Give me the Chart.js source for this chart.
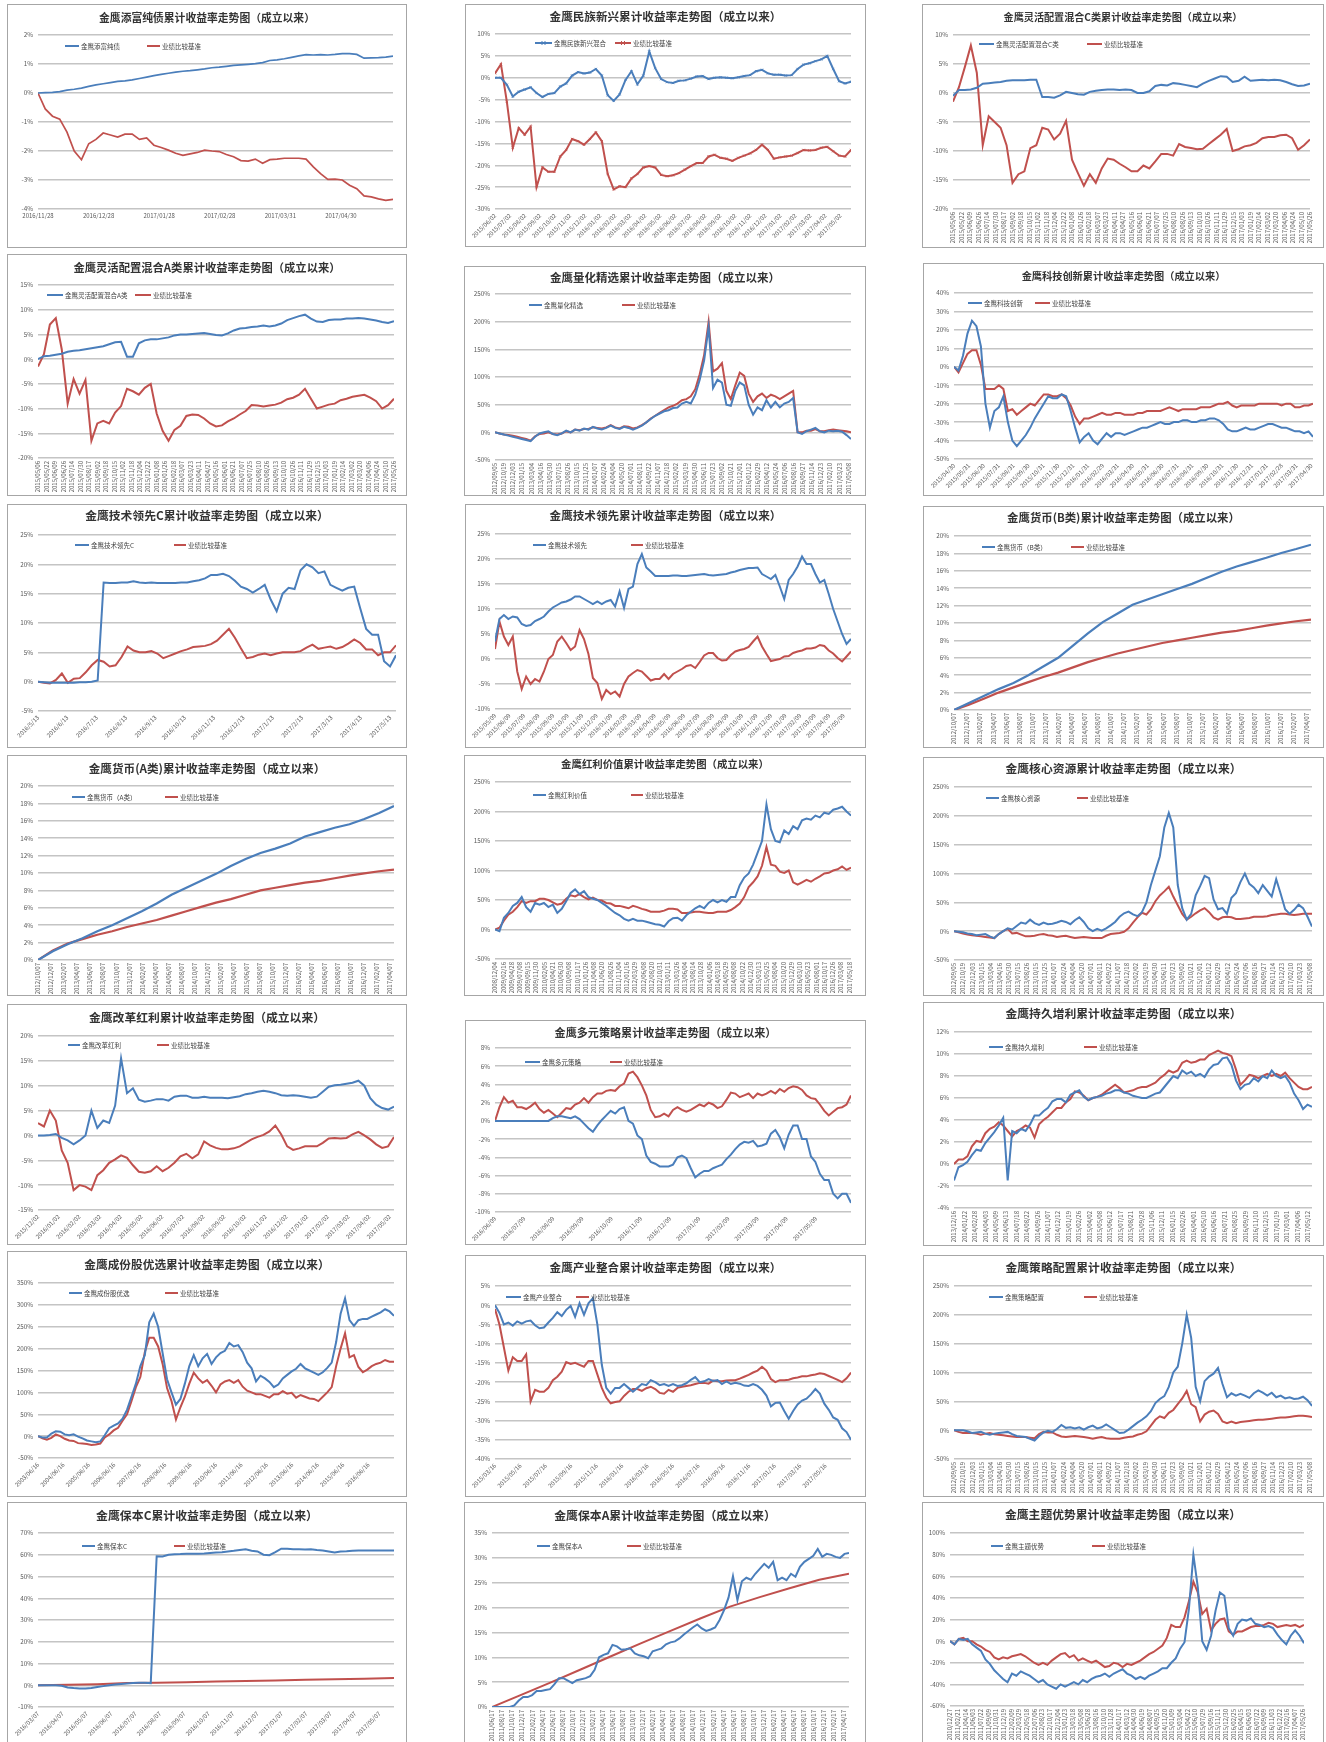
<!DOCTYPE html>
<html>
<head>
<meta charset="utf-8">
<script src="https://cdn.jsdelivr.net/npm/chart.js@4.4.1/dist/chart.umd.min.js"></script>
<style>
  body { margin: 0; background: #fff; }
  #page { position: relative; width: 1326px; height: 1742px; overflow: hidden; background: #fff; }
  .panel { position: absolute; border: 1px solid #a6a6a6; box-sizing: border-box; background: #fff; }
  .panel canvas { position: absolute; left: 0; top: 0; }
</style>
</head>
<body>
<div id="page"></div>
<script>
// Values (cumulative return, %), equally spaced in time.
const BENCH = '业绩比较基准';

const p1Labels = ['2016/11/28', '2016/12/28', '2017/01/28', '2017/02/28', '2017/03/31', '2017/04/30'];
const p1Blue = [0,0.01,0.02,0.05,0.1,0.13,0.17,0.23,0.28,0.32, 0.36,0.4,0.42,0.45,0.5,0.55,0.6,0.64,0.68,0.72, 0.75,0.77,0.8,0.83,0.87,0.89,0.92,0.95,0.97,0.99, 1.01,1.05,1.12,1.14,1.18,1.23,1.28,1.32,1.31,1.32, 1.31,1.33,1.36,1.36,1.33,1.2,1.21,1.22,1.24,1.27];
const p1Red = [0,-0.55,-0.8,-0.9,-1.35,-2.0,-2.3,-1.75,-1.6,-1.38, -1.45,-1.52,-1.42,-1.42,-1.6,-1.55,-1.8,-1.88,-1.97,-2.08, -2.15,-2.1,-2.05,-1.97,-2.0,-2.02,-2.12,-2.2,-2.33,-2.35, -2.28,-2.42,-2.3,-2.28,-2.25,-2.25,-2.25,-2.28,-2.55,-2.78, -2.98,-2.97,-3.0,-3.18,-3.3,-3.55,-3.58,-3.65,-3.7,-3.67];

const p2Labels = '2015/06/02 2015/07/02 2015/08/02 2015/09/02 2015/10/02 2015/11/02 2015/12/02 2016/01/02 2016/02/02 2016/03/02 2016/04/02 2016/05/02 2016/06/02 2016/07/02 2016/08/02 2016/09/02 2016/10/02 2016/11/02 2016/12/02 2017/01/02 2017/02/02 2017/03/02 2017/04/02 2017/05/02'.split(' ');
const p2Blue = [0,0,-1.6,-4.3,-3.2,-2.7,-2.2,-3.5,-4.4,-3.7, -3.5,-2.0,-1.3,0.5,1.3,1.0,1.2,2.0,0.5,-4.0, -5.3,-3.8,-0.5,1.5,-1.5,0.5,6.0,2.2,-0.3,-1.0, -1.2,-0.7,-0.6,-0.2,0.3,0.4,-0.3,0,0.1,0, -0.1,0.1,0.4,0.6,1.5,1.8,1.0,0.7,0.7,0.5, 0.6,2.0,3.0,3.3,3.8,4.2,5.0,2.0,-0.8,-1.3, -0.9];
const p2Red = [1.0,3.1,-5.5,-16,-11.5,-13,-11.2,-25,-20.5,-21.5, -21.5,-18,-16.5,-14,-14.5,-15.3,-14,-12.5,-14.5,-22, -25.5,-24.8,-25,-23,-22,-20.5,-20.2,-20.5,-22.2,-22.5, -22.3,-21.8,-21,-20.2,-19.5,-19.5,-18,-17.6,-18.3,-18.5, -19,-18.3,-17.8,-17.3,-16.5,-15.3,-16.5,-18.5,-18.2,-18, -17.8,-17.2,-16.5,-16.6,-16.5,-16,-15.8,-16.8,-17.8,-18, -16.5];

const p3Labels = '2015/05/06 2015/05/22 2015/06/09 2015/06/26 2015/07/14 2015/07/30 2015/08/17 2015/09/02 2015/09/18 2015/10/15 2015/11/02 2015/11/18 2015/12/04 2015/12/22 2016/01/08 2016/01/26 2016/02/18 2016/03/07 2016/03/23 2016/04/11 2016/04/27 2016/05/16 2016/06/01 2016/06/21 2016/07/07 2016/07/25 2016/08/10 2016/08/26 2016/09/13 2016/10/10 2016/10/26 2016/11/11 2016/11/29 2016/12/15 2017/01/03 2017/01/19 2017/02/14 2017/03/02 2017/03/20 2017/04/06 2017/04/24 2017/05/10 2017/05/26'.split(' ');
const p3Blue = [-0.5,0.5,0.5,0.6,0.9,1.6,1.7,1.8,1.9,2.1, 2.2,2.2,2.2,2.3,2.3,-0.7,-0.7,-0.8,-0.4,0.2, 0,-0.2,-0.3,0.2,0.4,0.5,0.6,0.6,0.5,0.6, 0.5,0,0,0.3,1.2,1.4,1.3,1.7,1.6,1.4, 1.2,1.0,1.6,2.1,2.5,2.9,2.8,1.9,2.1,2.8, 2.1,2.2,2.3,2.2,2.3,2.2,1.9,1.5,1.2,1.3, 1.6];
const p3Red = [-1.5,1.0,4.5,8.2,3.5,-9.0,-4.0,-5.0,-6.0,-9.0, -15.5,-14,-13.5,-9.5,-9.0,-6.0,-6.3,-8.0,-7.0,-4.8, -11.5,-13.8,-16,-14,-15.5,-13,-11.3,-11.5,-12.2,-12.8, -13.5,-13.5,-12.5,-13,-11.8,-10.5,-10.5,-10.8,-8.8,-9.3, -9.5,-9.7,-9.6,-8.8,-8.0,-7.2,-6.2,-10.0,-9.7,-9.2, -9.0,-8.6,-7.8,-7.6,-7.6,-7.3,-7.2,-7.8,-9.8,-9.0, -8.0];

const p4Blue = [0,0.6,0.7,0.9,1.1,1.5,1.7,1.8,2.0,2.2, 2.4,2.6,3.0,3.4,3.5,0.5,0.5,3.2,3.8,4.0, 4.0,4.2,4.4,4.8,5.0,5.0,5.1,5.2,5.3,5.1, 4.9,4.8,5.2,5.8,6.2,6.3,6.5,6.6,6.8,6.6, 6.8,7.2,7.9,8.3,8.7,9.0,8.2,7.6,7.5,7.9, 8.0,8.0,8.2,8.2,8.3,8.2,8.0,7.8,7.5,7.3, 7.7];
const p4Red = [-1.5,1.0,7.0,8.3,2.0,-9.0,-4.0,-7.0,-4.2,-16.5, -13,-12.5,-13,-10.8,-9.5,-6.0,-6.5,-7.2,-5.8,-5.0, -11,-14.5,-16.5,-14.3,-13.5,-11.5,-11.2,-11.3,-12.0,-13.0, -13.6,-13.4,-12.6,-12.0,-11.2,-10.5,-9.3,-9.4,-9.6,-9.4, -9.2,-8.8,-8.1,-7.8,-7.2,-6.0,-8.0,-10.0,-9.6,-9.2, -9.0,-8.3,-8.0,-7.6,-7.4,-7.2,-7.8,-8.5,-10.0,-9.3, -8.0];

const p5Labels = '2012/09/05 2012/10/19 2012/12/03 2013/01/15 2013/03/04 2013/04/16 2013/05/30 2013/07/15 2013/08/26 2013/10/15 2013/11/25 2014/01/07 2014/02/24 2014/04/04 2014/05/20 2014/07/01 2014/08/11 2014/09/22 2014/11/07 2014/12/18 2015/02/02 2015/03/19 2015/04/30 2015/06/11 2015/07/23 2015/09/02 2015/10/21 2015/12/01 2016/01/12 2016/02/29 2016/04/12 2016/05/24 2016/07/06 2016/08/16 2016/09/27 2016/11/14 2016/12/23 2017/02/10 2017/03/23 2017/05/08'.split(' ');
const p5Blue = [0,-2,-4,-6,-8,-10,-12,-14,-16,-8, -2,0,2,-3,-5,-2,3,0,5,3, 7,5,10,7,5,8,12,8,6,10, 8,5,8,12,18,24,30,34,38,40, 44,45,52,55,52,68,95,130,190,80, 95,90,50,48,75,90,85,50,32,45, 40,58,45,55,45,52,55,62,0,-3, 2,5,8,2,0,3,2,3,1,-5, -12];
const p5Red = [0,-2,-4,-5,-6,-8,-10,-12,-15,-7, -3,-2,0,-3,-4,-2,2,0,5,4, 6,6,9,8,7,9,13,9,7,11, 10,7,9,13,18,25,30,35,40,45, 48,52,58,60,65,78,105,140,200,110, 115,125,75,60,85,108,102,70,55,65, 70,62,68,65,60,65,70,75,0,0, 3,3,6,2,2,4,5,4,3,2, 0];

const p6Labels = '2015/04/30 2015/05/31 2015/06/30 2015/07/31 2015/08/31 2015/09/30 2015/10/31 2015/11/30 2015/12/31 2016/01/31 2016/02/29 2016/03/31 2016/04/30 2016/05/31 2016/06/30 2016/07/31 2016/08/31 2016/09/30 2016/10/31 2016/11/30 2016/12/31 2017/01/31 2017/02/28 2017/03/31 2017/04/30'.split(' ');
const p6Blue = [0,-2,6,18,25,22,11,-20,-33,-24, -22,-16,-30,-40,-43,-40,-37,-33,-28,-24, -20,-16,-17,-17,-15,-16,-24,-33,-41,-38, -36,-40,-42,-39,-36,-38,-36,-36,-37,-36, -35,-34,-33,-33,-32,-31,-30,-31,-31,-30, -30,-29,-29,-30,-30,-29,-29,-28,-28,-29, -31,-34,-35,-35,-34,-33,-34,-34,-33,-32, -31,-31,-32,-33,-33,-34,-35,-35,-36,-35, -38];
const p6Red = [0,-3,2,7,9,9,1,-12,-12,-12, -10,-12,-24,-23,-26,-24,-22,-20,-21,-18, -15,-15,-16,-16,-15,-17,-21,-27,-31,-28, -28,-27,-26,-25,-26,-26,-25,-25,-26,-26, -26,-25,-25,-24,-24,-24,-24,-23,-22,-23, -24,-23,-23,-23,-23,-22,-22,-22,-21,-20, -20,-19,-21,-22,-21,-21,-21,-21,-20,-20, -20,-20,-20,-21,-20,-20,-22,-22,-21,-21, -20];

const p7Labels = '2016/5/13 2016/6/13 2016/7/13 2016/8/13 2016/9/13 2016/10/13 2016/11/13 2016/12/13 2017/1/13 2017/2/13 2017/3/13 2017/4/13 2017/5/13'.split(' ');
const p7Blue = [0,-0.1,-0.2,-0.2,-0.2,-0.2,-0.2,-0.1,-0.1,0, 0.2,16.9,16.8,16.8,16.9,16.9,17.1,16.9,16.8,16.9, 16.8,16.8,16.8,16.8,16.9,16.9,17.1,17.3,17.6,18.2, 18.2,18.4,18.0,17.2,16.2,15.8,15.2,15.8,16.5,14.0, 12.0,15.0,16.0,15.8,19.0,20.0,19.5,18.5,18.8,16.5, 16.0,15.5,16.0,16.2,12.5,9.0,8.0,8.0,3.5,2.6, 4.5];
const p7Red = [0,-0.2,-0.3,0.3,1.4,-0.2,0.5,0.6,1.6,2.8, 3.7,3.4,2.6,2.8,4.2,6.0,5.3,5.0,5.0,5.2, 4.8,4.0,4.4,4.8,5.2,5.5,5.9,6.0,6.1,6.4, 7.0,8.0,9.0,7.5,5.7,4.0,4.2,4.6,4.8,4.5, 4.8,5.0,5.0,5.0,5.2,5.8,6.3,5.6,5.8,6.0, 5.6,5.9,6.5,7.2,6.6,5.5,5.5,4.5,5.0,5.0, 6.2];

const p8Labels = '2015/05/09 2015/06/09 2015/07/09 2015/08/09 2015/09/09 2015/10/09 2015/11/09 2015/12/09 2016/01/09 2016/02/09 2016/03/09 2016/04/09 2016/05/09 2016/06/09 2016/07/09 2016/08/09 2016/09/09 2016/10/09 2016/11/09 2016/12/09 2017/01/09 2017/02/09 2017/03/09 2017/04/09 2017/05/09'.split(' ');
const p8Blue = [3.5,8.0,8.8,8.0,8.5,8.3,7.0,6.6,6.8,7.6, 8.0,8.5,9.5,10.3,10.8,11.3,11.5,11.9,12.5,12.5, 12.0,11.5,11.0,11.5,11.0,11.5,11.8,10.5,13.5,10.2, 14.0,14.5,19.0,21.0,18.3,17.5,16.6,16.6,16.6,16.6, 16.7,16.7,16.6,16.6,16.7,16.8,16.9,17.0,16.8,16.7, 16.8,16.9,17.0,17.3,17.5,17.8,18.0,18.2,18.2,18.3, 17.0,16.5,16.0,16.8,14.5,12.0,15.8,17.0,18.5,20.5, 19.0,19.0,17.0,15.3,15.8,13.0,10.0,7.5,5.0,3.0, 4.0];
const p8Red = [2.0,7.5,4.5,2.8,4.5,-2.5,-6.0,-3.5,-5.0,-4.0, -4.5,-2.5,0.0,0.8,3.5,4.5,3.2,1.8,2.5,5.8, 4.0,1.0,-3.8,-4.8,-8.0,-6.2,-7.0,-6.5,-7.5,-5.0, -3.5,-2.8,-2.2,-2.5,-3.4,-4.3,-4.0,-4.0,-3.0,-4.0, -3.0,-2.5,-2.0,-1.4,-1.2,-1.8,-0.6,0.7,1.2,1.2, 0.2,-0.3,-0.2,0.8,1.5,1.8,2.0,2.4,3.5,4.5, 2.5,1.0,-0.4,-0.2,0.0,0.5,0.6,1.2,1.5,1.7, 2.1,2.1,2.3,2.8,2.6,1.7,1.1,0.2,-0.5,0.5, 1.5];

const p9Labels = '2012/10/07 2012/12/07 2013/02/07 2013/04/07 2013/06/07 2013/08/07 2013/10/07 2013/12/07 2014/02/07 2014/04/07 2014/06/07 2014/08/07 2014/10/07 2014/12/07 2015/02/07 2015/04/07 2015/06/07 2015/08/07 2015/10/07 2015/12/07 2016/02/07 2016/04/07 2016/06/07 2016/08/07 2016/10/07 2016/12/07 2017/02/07 2017/04/07'.split(' ');
const p9Blue = [0,0.8,1.6,2.4,3.1,4.0,5.0,6.0,7.4,8.8, 10.1,11.1,12.1,12.7,13.3,13.9,14.5,15.2,15.9,16.5, 17.0,17.5,18.05,18.5,19.0];
const p9Red = [0,0.6,1.3,2.0,2.6,3.2,3.8,4.3,4.9,5.5, 6.0,6.5,6.9,7.3,7.7,8.0,8.3,8.6,8.9,9.1, 9.4,9.7,9.95,10.2,10.4];

const p10Blue = [0,1.0,1.8,2.5,3.3,4.0,4.8,5.6,6.5,7.5, 8.3,9.1,9.9,10.8,11.6,12.3,12.8,13.4,14.2,14.7, 15.2,15.6,16.2,16.9,17.7];
const p10Red = [0,1.1,1.9,2.4,2.9,3.3,3.8,4.2,4.6,5.1, 5.6,6.1,6.6,7.0,7.5,8.0,8.3,8.6,8.9,9.1, 9.4,9.7,9.95,10.2,10.4];

const p11Labels = '2008/12/04 2009/02/16 2009/04/28 2009/07/08 2009/09/15 2009/11/30 2010/02/05 2010/04/21 2010/06/30 2010/09/08 2010/11/17 2011/01/26 2011/04/08 2011/06/20 2011/08/26 2011/11/04 2012/01/16 2012/03/29 2012/06/08 2012/08/20 2012/10/31 2013/01/11 2013/03/26 2013/06/04 2013/08/14 2013/10/28 2014/01/06 2014/03/18 2014/05/29 2014/08/08 2014/10/22 2014/12/30 2015/03/13 2015/05/25 2015/08/04 2015/10/20 2015/12/29 2016/03/10 2016/05/23 2016/08/01 2016/10/17 2016/12/26 2017/03/08 2017/05/18'.split(' ');
const p11Blue = [0,-3,20,28,40,45,55,38,30,45, 42,45,38,42,28,35,48,62,68,60, 65,55,52,50,45,40,34,28,24,18, 15,18,15,15,13,11,9,8,5,14, 19,20,15,24,30,36,40,36,45,50, 46,50,47,55,55,75,88,95,110,130, 150,212,170,150,148,168,162,175,170,185, 188,186,193,190,198,196,203,205,208,200, 193];
const p11Red = [0,3,15,25,30,38,48,45,48,48, 52,52,50,46,42,44,52,58,56,60, 55,51,54,50,49,45,44,40,40,38, 36,40,38,35,33,30,30,30,32,35, 35,34,28,28,29,30,30,29,28,28, 30,30,30,33,38,44,55,72,80,90, 108,140,110,108,98,96,100,80,76,80, 84,81,86,90,95,96,100,102,107,101, 105];

const p12Blue = [0,-1,-2,-4,-5,-7,-6,-5,-9,-12, -5,0,5,3,9,15,13,20,14,11, 15,12,13,15,18,16,12,19,24,16, 5,0,4,1,5,10,16,25,31,34, 29,26,33,50,80,105,130,180,205,180, 80,40,20,30,62,78,96,92,55,38, 40,30,58,66,85,100,82,76,66,80, 70,60,90,65,38,30,37,46,40,25, 8];
const p12Red = [0,-2,-4,-6,-7,-8,-9,-10,-11,-12, -5,0,4,-4,-3,-6,-9,-9,-8,-6, -5,-7,-8,-10,-9,-8,-10,-12,-11,-10, -11,-12,-12,-12,-8,-5,-4,-3,-1,5, 15,24,32,29,38,52,62,69,77,60, 45,30,20,25,31,36,40,33,24,20, 24,25,24,21,21,22,23,25,25,25, 26,28,29,30,30,29,28,29,30,30, 30];

const p13Labels = '2015/12/02 2016/01/02 2016/02/02 2016/03/02 2016/04/02 2016/05/02 2016/06/02 2016/07/02 2016/08/02 2016/09/02 2016/10/02 2016/11/02 2016/12/02 2017/01/02 2017/02/02 2017/03/02 2017/04/02 2017/05/02'.split(' ');
const p13Blue = [0,0,0.1,0.3,-0.5,-1.0,-1.8,-1.0,0,5, 1.5,3,2.5,6,15.5,8.5,9.5,7.2,6.8,7.0, 7.3,7.3,7.0,7.8,8.0,8.0,7.6,7.6,7.8,7.6, 7.6,7.6,7.5,7.7,7.9,8.3,8.5,8.8,9.0,8.8, 8.5,8.1,8.0,8.1,8.0,7.8,7.6,7.8,8.8,9.8, 10.1,10.2,10.4,10.6,11.0,10.0,7.5,6.2,5.5,5.2, 5.8];
const p13Red = [2.5,1.8,5.0,3.0,-3.0,-5.5,-11.0,-10.0,-10.3,-11, -8.0,-7.0,-5.5,-4.8,-4.0,-4.5,-6.0,-7.3,-7.5,-7.2, -6.2,-7.2,-6.5,-5.5,-4.2,-3.7,-4.6,-3.8,-1.2,-2.0, -2.5,-2.8,-2.8,-2.6,-2.2,-1.5,-0.8,-0.3,0.1,0.8, 2.0,0.2,-2.2,-2.9,-2.6,-2.2,-2.2,-2.2,-1.5,-0.6, -0.5,-0.6,-0.5,0.2,0.7,0.0,-0.8,-1.8,-2.5,-2.2, -0.3];

const p14Labels = '2016/06/09 2016/07/09 2016/08/09 2016/09/09 2016/10/09 2016/11/09 2016/12/09 2017/01/09 2017/02/09 2017/03/09 2017/04/09 2017/05/09'.split(' ');
const p14Blue = [0,0,0,0,0,0,0,0,0,0, 0,0,0,0.3,0.5,0.5,0.4,0.3,0.5,0.2, -0.3,-0.8,-1.2,-0.5,0.1,0.6,1.1,0.8,1.3,1.5, 0.0,-0.3,-1.6,-2.0,-3.8,-4.5,-4.7,-5.0,-5.0,-5.0, -4.8,-4.0,-3.8,-4.1,-5.2,-6.2,-5.8,-5.5,-5.5,-5.2, -5.0,-4.8,-4.2,-3.7,-3.1,-2.6,-2.3,-2.4,-2.2,-2.8, -2.7,-2.5,-1.4,-1.0,-1.8,-3.0,-1.5,-0.5,-0.5,-2.0, -2.0,-3.9,-4.5,-5.8,-6.5,-6.5,-8.0,-8.5,-8.0,-8.0, -9.0];
const p14Red = [0,1.5,2.6,2.0,2.2,1.5,1.5,1.3,1.6,2.0, 1.3,0.9,1.2,0.8,0.4,0.9,1.4,1.3,1.8,2.0, 2.5,2.0,2.6,3.0,3.0,3.3,3.4,3.3,3.8,4.1, 5.2,5.4,4.8,3.9,2.8,1.2,0.4,0.5,0.8,0.5, 1.2,1.5,1.2,1.0,1.2,1.5,1.8,1.6,2.0,1.8, 1.4,1.6,2.3,3.1,3.0,2.6,2.8,3.0,2.5,3.0, 2.8,3.0,3.3,3.0,3.5,3.2,3.6,3.8,3.7,3.4, 2.8,2.5,2.4,1.8,1.1,0.6,1.0,1.4,1.5,1.8, 2.8];

const p15Labels = '2013/12/16 2014/01/22 2014/02/28 2014/04/03 2014/05/09 2014/06/13 2014/07/18 2014/08/22 2014/09/26 2014/11/07 2014/12/12 2015/01/19 2015/02/26 2015/04/02 2015/05/08 2015/06/12 2015/07/17 2015/08/21 2015/09/28 2015/11/06 2015/12/11 2016/01/15 2016/02/26 2016/04/01 2016/05/10 2016/06/16 2016/07/21 2016/08/25 2016/09/29 2016/11/10 2016/12/15 2017/01/19 2017/03/01 2017/04/06 2017/05/12'.split(' ');
const p15Blue = [-1.5,-0.3,-0.1,0.2,0.8,1.3,1.2,1.9,2.4,2.9, 3.5,4.2,-1.5,3.0,2.8,3.2,3.0,3.6,4.4,4.4, 4.8,5.1,5.7,5.9,5.9,5.6,6.3,6.5,6.7,6.1, 5.8,6.0,6.1,6.2,6.4,6.5,6.7,6.7,6.5,6.4, 6.2,6.1,6.0,6.0,6.2,6.4,6.5,7.0,7.5,8.0, 7.8,8.5,8.2,8.4,8.0,8.2,7.9,8.6,9.0,9.1, 9.6,9.7,9.0,7.6,6.8,7.2,7.3,7.8,7.5,8.0, 7.8,8.5,8.0,7.8,8.0,7.4,6.4,5.8,5.0,5.4, 5.2];
const p15Red = [0,0.4,0.4,0.7,1.6,2.1,2.0,2.8,3.2,3.4, 3.8,3.5,3.0,2.5,3.0,3.2,3.5,3.3,2.4,3.6, 4.0,4.3,4.7,5.1,5.1,5.6,5.9,6.6,6.5,6.2, 5.8,6.0,6.1,6.3,6.6,6.9,7.2,6.9,6.5,6.6, 6.7,6.9,7.0,7.0,7.2,7.4,7.8,8.1,8.5,8.3, 8.5,9.2,9.4,9.2,9.3,9.5,9.5,9.9,10.1,10.3, 10.1,10.0,9.8,8.6,7.2,7.6,8.1,8.0,7.8,8.0, 8.2,8.0,8.2,8.0,8.3,7.8,7.4,7.0,6.8,6.8, 7.0];

const p16Labels = '2003/06/16 2004/06/16 2005/06/16 2006/06/16 2007/06/16 2008/06/16 2009/06/16 2010/06/16 2011/06/16 2012/06/16 2013/06/16 2014/06/16 2015/06/16 2016/06/16'.split(' ');
const p16Blue = [0,-3,-3,6,11,10,4,2,4,-1, -5,-10,-12,-14,-12,2,18,24,29,40, 60,90,120,160,185,260,280,250,190,130, 100,72,85,120,160,185,160,178,188,165, 180,190,195,213,205,208,192,168,155,125, 138,132,124,112,118,132,140,148,154,165, 155,150,145,140,146,156,168,215,280,315, 265,252,265,268,268,273,278,283,290,285, 275];
const p16Red = [0,-5,-8,-4,4,0,-6,-10,-11,-16, -17,-18,-20,-19,-17,-3,4,13,19,35, 50,80,112,135,192,225,225,205,165,110, 80,38,66,90,120,145,132,122,128,115, 100,118,125,128,122,128,113,104,100,96, 96,92,88,96,96,103,97,99,88,94, 90,86,85,80,90,100,112,160,200,235, 180,185,158,146,152,160,165,168,174,170, 170];

const p17Labels = '2015/03/16 2015/05/16 2015/07/16 2015/09/16 2015/11/16 2016/01/16 2016/03/16 2016/05/16 2016/07/16 2016/09/16 2016/11/16 2017/01/16 2017/03/16 2017/05/16'.split(' ');
const p17Blue = [0,-2,-5,-4.5,-5.3,-4.2,-4.8,-4.2,-4.0,-5.2, -6.0,-5.8,-4.5,-3.3,-1.8,-2.8,-1.2,-0.2,-3.0,0.5, -2.5,0.5,1.8,-5.0,-15.5,-21.5,-23,-21.5,-21.5,-20.5, -21.5,-22.5,-21.5,-20.5,-20.8,-19.5,-20,-20.8,-20.5,-21, -20.5,-21,-20.8,-20.3,-19.4,-18.7,-20,-19.8,-19.2,-19.7, -19.5,-20.5,-19.8,-20.5,-20.2,-20.4,-20.9,-21,-20.5,-21, -22,-23.5,-26.3,-25.4,-25.3,-27.5,-29.5,-27.5,-25.8,-24.8, -24.3,-23.2,-21.8,-23,-25.6,-27.2,-29.2,-29.8,-32,-33, -35];
const p17Red = [-1,-5,-11,-17,-13.5,-14.5,-14.5,-12.8,-25,-22, -22.5,-22.5,-21.5,-19.5,-18.6,-17.3,-14.8,-15.3,-15,-15.5, -16,-14.5,-14.5,-18,-21.5,-24,-25.5,-25.2,-25,-23.6, -22.5,-21.8,-21.8,-22.3,-21.6,-21.2,-21.8,-22.8,-23,-22, -22.5,-21.5,-21.2,-21,-20.8,-20.5,-20.2,-20.2,-20.4,-19.6, -19.8,-19.8,-19.6,-19.5,-19.5,-19.1,-18.6,-18.1,-17.5,-17, -16,-17,-19.2,-20,-19.5,-19.5,-19.4,-19,-18.8,-18.5, -18.5,-18.2,-18,-17.7,-17.9,-18.4,-18.9,-19.4,-20,-19, -17.5];

const p18Blue = [0,0,0,-2,-5,-4,-3,-6,-8,-6, -5,-4,-3,-7,-10,-11,-12,-15,-18,-10, -4,-1,-3,2,9,4,5,3,5,1, 5,8,3,5,10,5,0,-5,-4,1, 7,13,18,24,33,47,54,59,75,100, 110,150,200,160,75,50,85,93,98,108, 80,57,64,60,63,60,56,64,69,65, 60,65,57,60,55,57,54,55,58,52, 42];
const p18Red = [0,-3,-5,-5,-5,-6,-8,-6,-5,-7, -8,-9,-10,-11,-12,-12,-12,-13,-14,-7, -3,-4,-4,-8,-11,-12,-11,-10,-11,-12, -13,-15,-13,-12,-14,-15,-15,-15,-13,-12, -11,-8,-6,-2,8,18,24,21,30,35, 45,55,68,45,40,15,27,32,34,28, 15,12,15,12,14,15,16,17,18,18, 19,20,21,22,22,23,24,25,25,24, 23];

const p19Labels = '2016/03/07 2016/04/07 2016/05/07 2016/06/07 2016/07/07 2016/08/07 2016/09/07 2016/10/07 2016/11/07 2016/12/07 2017/01/07 2017/02/07 2017/03/07 2017/04/07 2017/05/07'.split(' ');
const p19Blue = [0,0,0,0,-0.2,-1.0,-1.3,-1.5,-1.5,-1.3, -0.8,-0.4,0,0.3,0.6,0.8,1.0,1.1,1.2,1.0, 59.3,59.2,60.0,60.2,60.3,60.5,60.5,60.5,60.6,60.8, 61.0,61.2,61.5,61.8,62.2,62.5,61.8,61.5,60.0,59.8, 61.2,62.8,62.8,62.5,62.5,62.4,62.5,62.2,62.0,61.5, 61.0,61.5,61.6,61.8,62.0,62.0,62.0,62.0,62.0,62.0, 62.0];
const p19Red = [0,0.2,0.5,1.0,1.2,1.4,1.7,2.0,2.2,2.5,2.8,3.0,3.3];

const p20Labels = '2011/06/17 2011/08/17 2011/10/17 2011/12/17 2012/02/17 2012/04/17 2012/06/17 2012/08/17 2012/10/17 2012/12/17 2013/02/17 2013/04/17 2013/06/17 2013/08/17 2013/10/17 2013/12/17 2014/02/17 2014/04/17 2014/06/17 2014/08/17 2014/10/17 2014/12/17 2015/02/17 2015/04/17 2015/06/17 2015/08/17 2015/10/17 2015/12/17 2016/02/17 2016/04/17 2016/06/17 2016/08/17 2016/10/17 2016/12/17 2017/02/17 2017/04/17'.split(' ');
const p20Blue = [0,0,0,0,0,0.3,1.3,2.0,2.0,2.4, 3.2,3.2,3.4,3.6,4.6,5.8,5.8,5.3,4.8,5.4, 5.6,5.8,6.2,7.5,10.0,10.5,10.8,12.5,12.2,11.5, 11.6,11.8,10.8,10.4,10.2,9.8,11.2,11.5,11.8,12.6, 13.0,13.2,13.8,14.6,15.3,16.0,16.6,15.8,15.3,15.6, 16.0,17.5,19.5,22.0,26.3,21.5,25.3,26.0,25.6,26.8, 27.8,28.8,28.0,29.2,25.5,26.0,25.5,26.8,26.2,28.2, 29.2,29.8,30.4,31.8,30.2,30.8,30.6,30.2,30.0,30.8, 31.0];
const p20Red = [0,2.5,5.0,7.6,10.2,12.8,15.3,17.8,20.2,22.1,23.9,25.6,26.8];

const p21Labels = '2010/12/27 2011/02/21 2011/04/14 2011/06/03 2011/07/22 2011/09/09 2011/10/31 2011/12/19 2012/02/09 2012/03/29 2012/05/18 2012/07/06 2012/08/23 2012/10/17 2012/12/04 2013/01/23 2013/03/18 2013/05/08 2013/06/28 2013/08/16 2013/10/10 2013/11/28 2014/01/17 2014/03/12 2014/04/30 2014/06/19 2014/08/07 2014/09/25 2014/11/20 2015/01/09 2015/03/04 2015/04/22 2015/06/10 2015/07/29 2015/09/16 2015/11/11 2015/12/30 2016/02/25 2016/04/15 2016/06/03 2016/07/22 2016/09/09 2016/11/03 2016/12/22 2017/02/16 2017/04/07 2017/05/26'.split(' ');
const p21Blue = [0,-3,2,1,2,-3,-6,-9,-17,-21, -27,-31,-35,-38,-30,-32,-28,-30,-32,-35, -38,-36,-40,-42,-44,-40,-42,-40,-38,-40, -36,-38,-35,-33,-32,-30,-33,-30,-28,-26, -30,-32,-35,-33,-35,-32,-30,-28,-25,-25, -20,-16,-7,-1,30,80,50,0,-8,5, 28,45,42,12,5,16,20,19,21,16, 15,13,14,12,6,1,-3,5,10,5, -2];
const p21Red = [0,-3,2,3,0,0,-3,-5,-8,-10, -15,-17,-15,-16,-14,-13,-12,-14,-17,-20, -22,-20,-22,-18,-15,-12,-11,-15,-13,-18, -16,-18,-20,-18,-21,-24,-23,-20,-21,-24, -21,-22,-20,-18,-15,-12,-10,-7,-4,3, 15,13,13,22,37,55,45,25,30,10, 16,20,21,9,6,9,9,11,13,14, 14,15,17,16,13,14,15,14,15,13, 15];

const FONT = "'Noto Sans CJK SC', 'Liberation Sans', sans-serif";
const BLUE = '#4a7ebb';
const RED = '#c0504d';

// One entry per panel. box = outer frame, plot = [left, top(max tick), right, bottom(min tick)],
// legend = [y, blue x1, blue x2, red x1, red x2]; all in page pixels.
const panels = [
  { title: '金鹰添富纯债累计收益率走势图（成立以来）', ts: 10.8, ty: 18, names: ['金鹰添富纯债', BENCH], blue: p1Blue, red: p1Red, labels: p1Labels, span: 5.86, rot: 0, y: [-4, 2, 1], box: [7, 4, 400, 244], plot: [38, 35, 393, 209], legend: [46, 65, 79, 147, 160], lw: 1.7 },
  { title: '金鹰民族新兴累计收益率走势图（成立以来）', ts: 11.6, ty: 17, names: ['金鹰民族新兴混合', BENCH], blue: p2Blue, red: p2Red, labels: p2Labels, span: 23.7, rot: 45, y: [-30, 10, 5], box: [465, 4, 401, 243], plot: [495, 34, 851, 209], legend: [43, 535, 552, 615, 631], markers: true },
  { title: '金鹰灵活配置混合C类累计收益率走势图（成立以来）', ts: 10.1, ty: 17, names: ['金鹰灵活配置混合C类', BENCH], blue: p3Blue, red: p3Red, labels: p3Labels, span: 42, rot: 90, y: [-20, 10, 5], box: [922, 4, 402, 244], plot: [953, 35, 1310, 209], legend: [44, 979, 994, 1087, 1102] },

  { title: '金鹰灵活配置混合A类累计收益率走势图（成立以来）', ts: 11.3, ty: 268, names: ['金鹰灵活配置混合A类', BENCH], blue: p4Blue, red: p4Red, labels: p3Labels, span: 42, rot: 90, y: [-20, 15, 5], box: [7, 254, 400, 242], plot: [38, 285, 394, 458], legend: [295, 47, 63, 135, 151] },
  { title: '金鹰量化精选累计收益率走势图（成立以来）', ts: 11.5, ty: 278, names: ['金鹰量化精选', BENCH], blue: p5Blue, red: p5Red, labels: p5Labels, span: 39.3, rot: 90, y: [-50, 250, 50], box: [464, 266, 402, 230], plot: [495, 294, 851, 460], legend: [305, 529, 542, 622, 635] },
  { title: '金鹰科技创新累计收益率走势图（成立以来）', ts: 10.2, ty: 276, names: ['金鹰科技创新', BENCH], blue: p6Blue, red: p6Red, labels: p6Labels, span: 24.1, rot: 45, y: [-50, 40, 10], box: [923, 263, 401, 233], plot: [954, 293, 1313, 459], legend: [303, 968, 982, 1035, 1050] },

  { title: '金鹰技术领先C累计收益率走势图（成立以来）', ts: 11.8, ty: 516, names: ['金鹰技术领先C', BENCH], blue: p7Blue, red: p7Red, labels: p7Labels, span: 12.2, rot: 45, y: [-5, 25, 5], box: [7, 504, 400, 244], plot: [38, 535, 396, 711], legend: [545, 75, 89, 174, 186] },
  { title: '金鹰技术领先累计收益率走势图（成立以来）', ts: 11.6, ty: 516, names: ['金鹰技术领先', BENCH], blue: p8Blue, red: p8Red, labels: p8Labels, span: 24.5, rot: 45, y: [-10, 25, 5], box: [465, 504, 401, 244], plot: [495, 534, 851, 709], legend: [545, 533, 546, 631, 643] },
  { title: '金鹰货币(B类)累计收益率走势图（成立以来）', ts: 11.4, ty: 518, names: ['金鹰货币（B类）', BENCH], blue: p9Blue, red: p9Red, labels: p9Labels, span: 27.3, rot: 90, y: [0, 20, 2], box: [923, 506, 401, 242], plot: [954, 536, 1311, 710], legend: [547, 982, 995, 1071, 1084], lw: 2.2 },

  { title: '金鹰货币(A类)累计收益率走势图（成立以来）', ts: 11.6, ty: 769, names: ['金鹰货币（A类）', BENCH], blue: p10Blue, red: p10Red, labels: p9Labels, span: 27.3, rot: 90, y: [0, 20, 2], box: [7, 755, 400, 241], plot: [38, 786, 394, 960], legend: [797, 72, 85, 165, 178], lw: 2.2 },
  { title: '金鹰红利价值累计收益率走势图（成立以来）', ts: 10.4, ty: 764, names: ['金鹰红利价值', BENCH], blue: p11Blue, red: p11Red, labels: p11Labels, span: 43.2, rot: 90, y: [-50, 250, 50], box: [464, 755, 402, 241], plot: [495, 782, 851, 959], legend: [795, 533, 546, 631, 643] },
  { title: '金鹰核心资源累计收益率走势图（成立以来）', ts: 11.8, ty: 769, names: ['金鹰核心资源', BENCH], blue: p12Blue, red: p12Red, labels: p5Labels, span: 39.3, rot: 90, y: [-50, 250, 50], box: [923, 757, 401, 239], plot: [954, 787, 1312, 960], legend: [798, 986, 999, 1077, 1088] },

  { title: '金鹰改革红利累计收益率走势图（成立以来）', ts: 11.8, ty: 1018, names: ['金鹰改革红利', BENCH], blue: p13Blue, red: p13Red, labels: p13Labels, span: 17.2, rot: 45, y: [-15, 20, 5], box: [7, 1004, 400, 241], plot: [38, 1036, 394, 1210], legend: [1045, 68, 80, 157, 169] },
  { title: '金鹰多元策略累计收益率走势图（成立以来）', ts: 11.1, ty: 1033, names: ['金鹰多元策略', BENCH], blue: p14Blue, red: p14Red, labels: p14Labels, span: 12.2, rot: 45, y: [-10, 8, 2], box: [465, 1020, 401, 225], plot: [495, 1048, 851, 1212], legend: [1062, 525, 540, 610, 622] },
  { title: '金鹰持久增利累计收益率走势图（成立以来）', ts: 11.8, ty: 1014, names: ['金鹰持久增利', BENCH], blue: p15Blue, red: p15Red, labels: p15Labels, span: 34.4, rot: 90, y: [-4, 12, 2], box: [923, 1002, 401, 244], plot: [954, 1032, 1312, 1208], legend: [1047, 989, 1003, 1084, 1097] },

  { title: '金鹰成份股优选累计收益率走势图（成立以来）', ts: 11.7, ty: 1265, names: ['金鹰成份股优选', BENCH], blue: p16Blue, red: p16Red, labels: p16Labels, span: 14, rot: 45, y: [-50, 350, 50], box: [7, 1251, 400, 246], plot: [38, 1283, 394, 1458], legend: [1293, 69, 82, 165, 178] },
  { title: '金鹰产业整合累计收益率走势图（成立以来）', ts: 11.6, ty: 1268, names: ['金鹰产业整合', BENCH], blue: p17Blue, red: p17Red, labels: p17Labels, span: 14, rot: 45, y: [-40, 5, 5], box: [465, 1255, 401, 242], plot: [495, 1286, 851, 1459], legend: [1297, 506, 521, 576, 589] },
  { title: '金鹰策略配置累计收益率走势图（成立以来）', ts: 11.8, ty: 1268, names: ['金鹰策略配置', BENCH], blue: p18Blue, red: p18Red, labels: p5Labels, span: 39.3, rot: 90, y: [-50, 250, 50], box: [923, 1255, 401, 242], plot: [954, 1286, 1312, 1459], legend: [1297, 989, 1003, 1084, 1097] },

  { title: '金鹰保本C累计收益率走势图（成立以来）', ts: 11.9, ty: 1515, names: ['金鹰保本C', BENCH], blue: p19Blue, red: p19Red, labels: p19Labels, span: 14.6, rot: 45, y: [-10, 70, 10], box: [7, 1502, 400, 250], plot: [38, 1533, 394, 1707], legend: [1546, 82, 95, 174, 185] },
  { title: '金鹰保本A累计收益率走势图（成立以来）', ts: 11.9, ty: 1515, names: ['金鹰保本A', BENCH], blue: p20Blue, red: p20Red, labels: p20Labels, span: 35.5, rot: 90, y: [0, 35, 5], box: [464, 1502, 402, 250], plot: [492, 1533, 849, 1707], legend: [1546, 537, 550, 627, 641] },
  { title: '金鹰主题优势累计收益率走势图（成立以来）', ts: 11.8, ty: 1515, names: ['金鹰主题优势', BENCH], blue: p21Blue, red: p21Red, labels: p21Labels, span: 46.2, rot: 90, y: [-60, 100, 20], box: [922, 1502, 402, 250], plot: [950, 1533, 1304, 1706], legend: [1546, 991, 1003, 1092, 1105] },
];

// Excel-style legend drawn inside the plot area
const insideLegend = {
  id: 'insideLegend',
  afterDatasetsDraw(chart, args, o) {
    const ctx = chart.ctx;
    ctx.save();
    ctx.font = `${o.size}px ${FONT}`;
    ctx.textBaseline = 'middle';
    chart.data.datasets.forEach((ds, k) => {
      const [x1, x2] = o.items[k];
      ctx.strokeStyle = ds.borderColor;
      ctx.lineWidth = 2;
      ctx.beginPath(); ctx.moveTo(x1, o.y); ctx.lineTo(x2, o.y); ctx.stroke();
      if (o.markers) {
        const m = (x1 + x2) / 2;
        ctx.lineWidth = 1;
        ctx.beginPath();
        ctx.moveTo(m - 2, o.y - 2); ctx.lineTo(m + 2, o.y + 2);
        ctx.moveTo(m - 2, o.y + 2); ctx.lineTo(m + 2, o.y - 2);
        ctx.stroke();
      }
      ctx.fillStyle = '#404040';
      ctx.fillText(ds.label, x2 + 2, o.y + 0.5);
    });
    ctx.restore();
  }
};

function makeChart(c) {
  const [bx, by, bw, bh] = c.box;
  const [pl, pt, pr, pb] = c.plot;
  const W = bw - 2, H = bh - 2, ox = bx + 1, oy = by + 1;

  const div = document.createElement('div');
  div.className = 'panel';
  div.style.cssText = `left:${bx}px;top:${by}px;width:${bw}px;height:${bh}px`;
  const cv = document.createElement('canvas');
  cv.width = W; cv.height = H;
  cv.style.width = W + 'px'; cv.style.height = H + 'px';
  div.appendChild(cv);
  document.getElementById('page').appendChild(div);

  const gapRight = W - (pr - ox);
  const tTop = (c.ty - oy) - c.ts * 0.6;
  const tBottom = (pt - oy) - tTop - c.ts * 1.2;
  const [lgY, b1, b2, r1, r2] = c.legend;

  const series = [c.blue, c.red];
  new Chart(cv, {
    type: 'line',
    data: {
      datasets: series.map((vals, k) => ({
        label: c.names[k],
        yAxisID: 'y',
        data: vals.map((v, i) => ({ x: i * c.span / (vals.length - 1), y: v })),
        borderColor: k ? RED : BLUE,
        backgroundColor: k ? RED : BLUE,
        borderWidth: c.lw || 2,
        pointRadius: c.markers ? 1.6 : 0,
        pointStyle: 'crossRot',
        pointBorderWidth: 0.8,
        tension: 0
      }))
    },
    options: {
      responsive: false,
      animation: false,
      layout: { padding: 0 },
      plugins: {
        legend: { display: false },
        tooltip: { enabled: false },
        title: {
          display: true, text: c.title, color: '#333333',
          font: { family: FONT, size: c.ts, weight: 'bold' },
          padding: { top: tTop, bottom: tBottom }
        },
        insideLegend: { y: lgY - oy, items: [[b1 - ox, b2 - ox], [r1 - ox, r2 - ox]], size: 6.5, markers: !!c.markers }
      },
      scales: {
        x: {
          type: 'linear', min: 0, max: c.span,
          grid: { display: false, drawTicks: false },
          border: { display: false },
          afterBuildTicks: s => { s.ticks = c.labels.map((_, k) => ({ value: k })); },
          afterFit: s => { s.height = H - (pb - oy); },
          ticks: {
            autoSkip: false, minRotation: c.rot, maxRotation: c.rot, padding: 3,
            color: '#595959', font: { family: FONT, size: 6 },
            callback: v => c.labels[v]
          }
        },
        y: {
          min: c.y[0], max: c.y[1],
          grid: { color: '#c4c4c4', lineWidth: 1.5, drawTicks: false },
          border: { display: false },
          afterFit: s => { s.width = pl - ox; },
          ticks: {
            stepSize: c.y[2], padding: 5,
            color: '#595959', font: { family: FONT, size: 6.3 },
            callback: v => v + '%'
          }
        },
        // empty right-hand axis: keeps the gap right of the plot so the title centres on the panel
        gap: {
          axis: 'y', position: 'right',
          grid: { display: false, drawTicks: false },
          border: { display: false },
          ticks: { display: false },
          afterFit: s => { s.width = gapRight; }
        }
      }
    },
    plugins: [insideLegend]
  });
}

panels.forEach(makeChart);
</script>
</body>
</html>
